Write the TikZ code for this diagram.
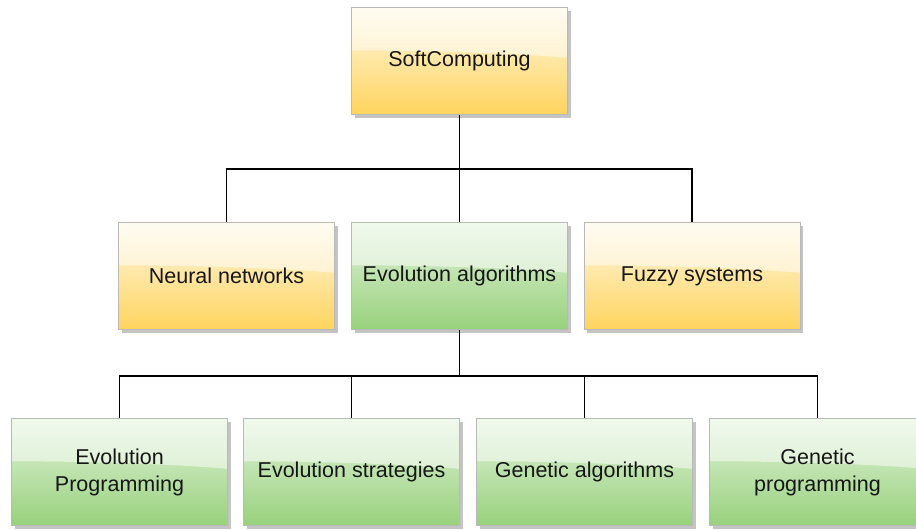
\documentclass[tikz,border=0pt]{standalone}
\usepackage{fontspec}
\setmainfont{Liberation Sans}
\usetikzlibrary{shadows,calc}

\definecolor{ylwtop}{RGB}{255,248,228}
\definecolor{ylwbot}{RGB}{255,212,94}
\definecolor{grntop}{RGB}{226,243,219}
\definecolor{grnbot}{RGB}{152,209,124}
\definecolor{boxline}{RGB}{185,185,185}
\definecolor{shade}{RGB}{196,196,196}
\definecolor{ink}{RGB}{22,22,22}

\tikzset{
  card/.style={
    rectangle, draw=boxline, line width=1pt,
    minimum width=216pt, minimum height=107pt,
    inner sep=0pt, align=center, text=ink,
    font=\fontsize{21.5}{27}\selectfont,
    drop shadow={shadow xshift=3pt, shadow yshift=-3pt, fill=shade, opacity=1},
    path picture={
      % glossy highlight over the upper part of the card
      \fill[white, opacity=0.5]
        (path picture bounding box.north west)
        -- (path picture bounding box.north east)
        -- ($(path picture bounding box.north east)!0.47!(path picture bounding box.south east)$)
        .. controls ($(path picture bounding box.north east)!0.42!(path picture bounding box.south east)+(-60pt,0)$)
           and ($(path picture bounding box.north west)!0.40!(path picture bounding box.south west)+(60pt,0)$)
        .. ($(path picture bounding box.north west)!0.40!(path picture bounding box.south west)$)
        -- cycle;
    }
  },
  yellowcard/.style={card, top color=ylwtop, bottom color=ylwbot},
  greencard/.style={card, top color=grntop, bottom color=grnbot},
  link/.style={draw=black, line width=1.5pt}
}

\begin{document}
\begin{tikzpicture}[x=1pt, y=-1pt]
  \useasboundingbox (0,0) rectangle (916,530);

  % root
  \node[yellowcard] (soft) at (459.5,61) {SoftComputing};

  % second level
  \node[yellowcard] (nn) at (226.5,276) {Neural networks};
  \node[greencard]  (ea) at (459.5,276) {Evolution algorithms};
  \node[yellowcard] (fs) at (692,276)   {Fuzzy systems};

  % third level
  \node[greencard] (ep) at (119.5,472) {Evolution\\Programming};
  \node[greencard] (es) at (351.5,472) {Evolution strategies};
  \node[greencard] (ga) at (584.5,472) {Genetic algorithms};
  \node[greencard] (gp) at (817.5,472) {Genetic\\programming};

  % bus lines
  \coordinate (busA) at (459.5,169);
  \coordinate (busB) at (459.5,376);

  \draw[link] (soft.south) -- (busA);
  \draw[link] (nn.north) |- (busA);
  \draw[link] (ea.north) -- (busA);
  \draw[link] (fs.north) |- (busA);

  \draw[link] (ea.south) -- (busB);
  \draw[link] (ep.north) |- (busB);
  \draw[link] (es.north) |- (busB);
  \draw[link] (ga.north) |- (busB);
  \draw[link] (gp.north) |- (busB);
\end{tikzpicture}
\end{document}
